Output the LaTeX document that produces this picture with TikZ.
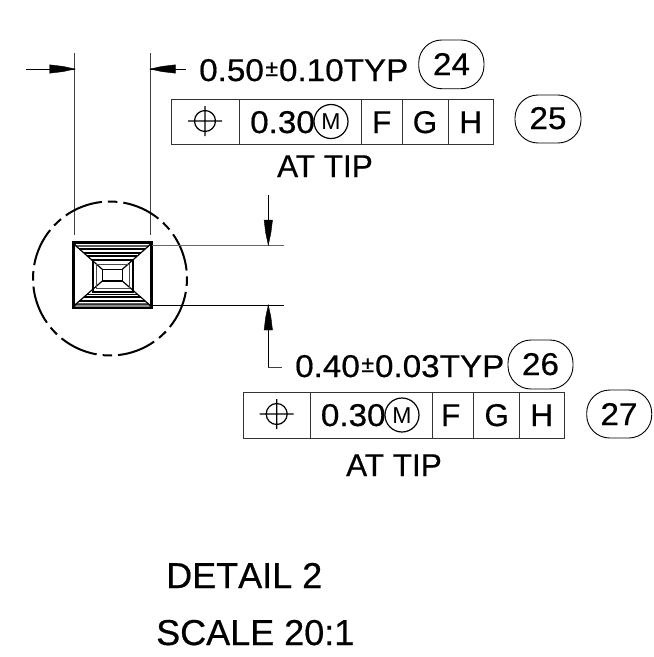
\documentclass[tikz,border=0pt]{standalone}
\usepackage{fontspec}
\setmainfont{Liberation Sans}
\newfontfamily\plainf[FakeBold=0.5]{Liberation Sans}
\newfontfamily\nokernf[FakeBold=0.5,Kerning=Off]{Liberation Sans}
\newfontfamily\widef[FakeStretch=1.055,FakeBold=0.5]{Liberation Sans}
\newcommand{\pmsmall}{\hspace{1.5pt}\raisebox{5pt}{\fontsize{23}{23}\plainf ±}\hspace{1pt}}
\tikzset{
  x=1pt,y=-1pt,
  dim/.style={draw=black,line width=0.8pt},
  ext/.style={draw=black!75,line width=0.9pt},
  frameline/.style={draw=black!80,line width=1pt},
  head/.style={fill=black,draw=black,line width=0.4pt},
  sym/.style={line width=1.2pt},
  txt/.style={inner sep=0pt,font=\fontsize{31.5}{31.5}\widef,anchor=base west},
  wnum/.style={inner sep=0pt,font=\fontsize{31.5}{31.5}\widef,anchor=base},
  ctxt/.style={inner sep=0pt,font=\fontsize{31.5}{31.5}\plainf,anchor=base},
  captext/.style={inner sep=0pt,font=\fontsize{36}{36}\nokernf,anchor=base west},
  mletter/.style={inner sep=0pt,anchor=base,font=\fontsize{23}{23}\selectfont},
  capsule/.style={draw=black,line width=0.9pt,rounded corners=23pt},
  part/.style={draw=black,line width=1.2pt},
}
\begin{document}
\begin{tikzpicture}
\useasboundingbox (0,0) rectangle (654,657);
% leader coordinates
\coordinate (xl) at (74.5,53); \coordinate (xlb) at (74.5,235);
\coordinate (xr) at (150,53); \coordinate (xrb) at (150,235);
\draw[ext] (xl)--(xlb); \draw[ext] (xr)--(xrb);
\coordinate (al) at (26,69); \coordinate (atl) at (75,69);
\coordinate (ar) at (186,69); \coordinate (atr) at (150,69);
\draw[dim] (al)--(atl); \draw[dim] (ar)--(atr);
\fill[head] (atl)--(63,66.4)--(49.5,64.8)--(49.5,73.2)--(63,71.6)--cycle;
\fill[head] (atr)--(162,66.4)--(175.5,64.8)--(175.5,73.2)--(162,71.6)--cycle;
% detail circle
\foreach \k in {0,...,7}{
  \pgfmathsetmacro{\sa}{88+45*\k-3.5}
  \pgfmathsetmacro{\sb}{88+45*\k+3.5}
  \pgfmathsetmacro{\la}{88+45*\k+8}
  \pgfmathsetmacro{\lb}{88+45*\k+37}
  \draw[line width=2pt] (110,278.5)++(\sa:77pt) arc[start angle=\sa,end angle=\sb,radius=77pt];
  \draw[line width=2pt] (110,278.5)++(\la:77pt) arc[start angle=\la,end angle=\lb,radius=77pt];
}
% part
\fill[black!45] (74,304) rectangle (151,308.5);
\draw[line width=2.6pt] (73.3,242.3) rectangle (151.7,307.8);
\draw[part] (74,243)--(76,246)--(148.6,246)--(151,243);
\draw[part] (74,307)--(76,304)--(148.6,304)--(151,307);
\draw[part] (79.4,249)--(145.2,249) (84,253)--(140.6,253) (87.3,256)--(137.3,256);
\draw[part] (79.4,301)--(145.2,301) (84,297)--(140.6,297) (87.3,294.5)--(137.3,294.5);
\draw[part] (76,246)--(102.3,269.3) (148.6,246)--(122.3,269.3) (76,304)--(102.3,281) (148.6,304)--(122.3,281);
\draw[line width=1.4pt] (93,260) rectangle (133,292);
\draw[draw=black!70,line width=1pt] (96.5,264) rectangle (129.5,288);
\draw[line width=1.4pt] (102.3,269.3) rectangle (122.3,281);
% vertical dimension
\draw[draw=black!60,line width=1pt] (152,245)--(284,245);
\draw[draw=black,line width=0.9pt] (152,305)--(284,305);
\coordinate (vt) at (268.3,195); \coordinate (vtt) at (268.3,245);
\coordinate (vb) at (268.3,305); \coordinate (vbe) at (282,367);
\draw[dim] (vt)--(vtt); \draw[dim] (vb)--(268.3,367); \draw[ext] (268.3,367)--(vbe);
\fill[head] (vtt)--(265.7,233)--(264.1,220)--(272.5,220)--(270.9,233)--cycle;
\fill[head] (vb)--(265.7,317)--(264.1,330)--(272.5,330)--(270.9,317)--cycle;
% dimension texts
\node[txt] (t1) at (199,81) {0.50\pmsmall 0.10TYP};
\node[txt] (t2) at (295,377) {0.40\pmsmall 0.03TYP};
% capsules
\draw[capsule] (418.7,40) rectangle (484,88.7);
\node[wnum] (c24) at (451.5,75) {24};
\draw[capsule] (515,95) rectangle (581,143);
\node[wnum] (c25) at (548,129) {25};
\draw[capsule] (508,340) rectangle (573,389);
\node[wnum] (c26) at (540.5,375) {26};
\draw[capsule] (586.7,390) rectangle (651.7,438);
\node[wnum] (c27) at (619,425) {27};
% frame top
\draw[frameline] (171.7,99.3) rectangle (493,144.7);
\draw[frameline] (239,99.3)--(239,144.7) (361,99.3)--(361,144.7) (402,99.3)--(402,144.7) (448,99.3)--(448,144.7);
\draw[sym] (205,121) circle (10.5) (188,121)--(222,121) (205,106)--(205,136);
\node[txt] (v1) at (250,133) {0.30};
\draw[sym] (331,121.5) circle (17);
\node[mletter] (m1) at (331,129.7) {M};
\node[ctxt] (f1) at (381.7,133) {F};
\node[ctxt] (g1) at (425,133) {G};
\node[ctxt] (h1) at (470.7,133) {H};
\node[ctxt] (a1) at (325,177) {AT TIP};
% frame bottom
\draw[frameline] (243.3,392.3) rectangle (564,438);
\draw[frameline] (310,392.3)--(310,438) (432.7,392.3)--(432.7,438) (473.3,392.3)--(473.3,438) (519.3,392.3)--(519.3,438);
\draw[sym] (276.7,414) circle (10.5) (259.7,414)--(293.7,414) (276.7,399)--(276.7,429);
\node[txt] (v2) at (320.7,426) {0.30};
\draw[sym] (402,415) circle (17);
\node[mletter] (m2) at (402,423.3) {M};
\node[ctxt] (f2) at (450.7,426) {F};
\node[ctxt] (g2) at (496.7,426) {G};
\node[ctxt] (h2) at (541.7,426) {H};
\node[ctxt] (a2) at (394,476) {AT TIP};
% caption
\node[captext] (d) at (166,588) {DETAIL 2};
\node[captext] (s) at (156,645) {SCALE 20:1};
\end{tikzpicture}
\end{document}
